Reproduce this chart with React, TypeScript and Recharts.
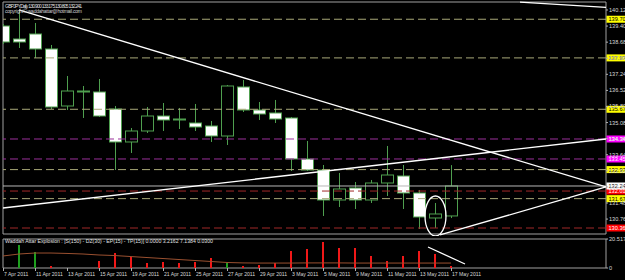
import React from 'react'
import {
  ComposedChart,
  Bar,
  Line,
  XAxis,
  YAxis,
  Cell,
  ReferenceLine,
  ReferenceArea,
  ReferenceDot,
} from 'recharts'

// GBPJPY daily, 7 Apr - 17 May 2011
const dates = [
  '7 Apr 2011', '8 Apr 2011', '11 Apr 2011', '12 Apr 2011', '13 Apr 2011', '14 Apr 2011',
  '15 Apr 2011', '18 Apr 2011', '19 Apr 2011', '20 Apr 2011', '21 Apr 2011', '22 Apr 2011',
  '25 Apr 2011', '26 Apr 2011', '27 Apr 2011', '28 Apr 2011', '29 Apr 2011', '2 May 2011',
  '3 May 2011', '4 May 2011', '5 May 2011', '6 May 2011', '9 May 2011', '10 May 2011',
  '11 May 2011', '12 May 2011', '13 May 2011', '16 May 2011', '17 May 2011',
]
const opens = [
  139.403, 138.821, 139.045, 138.374, 135.822, 136.493, 136.449, 135.688, 134.211, 134.703,
  135.374, 135.24, 135.061, 134.927, 134.479, 136.673, 135.643, 135.509, 135.285, 133.45,
  132.957, 131.614, 132.151, 131.614, 132.375, 132.689, 131.928, 130.809, 130.9,
]
const highs = [
  139.493, 140.12, 139.537, 138.553, 137.165, 136.717, 137.031, 135.822, 134.837, 135.777,
  135.956, 135.733, 135.912, 135.151, 136.762, 136.986, 136.001, 136.091, 135.33, 134.255,
  133.181, 132.823, 132.42, 132.51, 134.032, 133.181, 132.062, 131.48, 133.175,
]
const lows = [
  138.597, 138.418, 137.971, 135.688, 135.643, 135.285, 135.33, 132.957, 133.718, 134.613,
  134.703, 134.792, 134.703, 134.211, 134.076, 135.553, 135.195, 135.061, 132.912, 132.912,
  130.898, 131.301, 131.211, 131.48, 131.793, 131.211, 130.316, 130.361, 130.805,
]
const closes = [
  138.687, 138.687, 138.374, 135.777, 136.493, 136.48, 135.374, 134.211, 134.703, 135.374,
  135.195, 135.218, 134.882, 134.479, 136.717, 135.643, 135.464, 135.24, 133.45, 132.957,
  131.614, 132.107, 131.614, 132.375, 132.733, 131.928, 130.853, 130.988, 132.241,
]

// Waddah Attar Explosion sub window
const waeUp = [
  0, 16.3, 11.3, 0, 0, 0, 0, 0, 0, 0, 0, 0, 0, 0, 3.5, 0, 0, 0, 0, 0, 0, 0, 0, 0, 0, 0, 0, 0, 0,
]
const waeDown = [
  0, 0, 0, 1.4, 0, 0, 5.0, 10.6, 7.8, 3.5, 4.2, 3.5, 4.2, 7.1, 0, 1.4, 2.1, 3.5, 12.0, 13.4,
  18.4, 14.2, 14.2, 8.5, 5.0, 8.5, 12.0, 9.9, 1.4,
]
const explosion = [
  8.5, 9.9, 10.6, 10.6, 10.3, 9.9, 9.2, 8.8, 8.1, 7.4, 6.7, 6.0, 5.3, 4.6, 3.9, 3.6, 3.5, 3.5,
  3.5, 3.6, 3.6, 3.6, 3.5, 3.5, 3.5, 3.5, 3.5, 3.5, 3.5,
]

const priceTicks = [
  140.12, 139.4, 138.68, 137.96, 137.24, 136.52, 135.8, 135.08, 134.36, 133.64, 132.92, 132.2,
  131.48, 130.76,
]
const yellowLevels = [139.705, 137.975, 135.675, 132.975, 131.675]
const magentaLevels = [134.345, 133.45]
const redLevels = [132.015, 130.36]
const bid = 132.241

// trendlines as [barIndex, price] pairs
const trendLines = [
  [[1, 140.12], [37.6875, 132.196]],
  [[0, 131.256], [37.6875, 134.345]],
  [[27.3125, 130.048], [37.6875, 132.196]],
  [[32.3125, 140.47], [37.6875, 140.24]],
]
const circled = [27.03, 130.898]
const waeArrow = [[26.5625, 14.86], [28.875, 2.83]]

const X_MAX = 37.6875
const P_MIN = 130.092
const P_MAX = 140.477
const WAE_MAX = 20.5177

const WICK = '#4f9f4f'
const FONT = '"Liberation Sans", Arial, sans-serif'

const rows = dates.map((d, i) => ({
  i,
  date: d,
  open: opens[i],
  high: highs[i],
  low: lows[i],
  close: closes[i],
  range: [lows[i], highs[i]],
  hist: waeUp[i] > 0 ? waeUp[i] : waeDown[i],
  up: waeUp[i] > 0,
  exp: explosion[i],
}))

function Candle(props: any) {
  const { x, y, width, height, payload } = props
  if (x == null || !payload) return null
  const { open, close, high, low } = payload
  const cx = Math.round(x + width / 2) + 0.5
  const top = Math.min(y, y + height)
  const h = Math.abs(height)
  const py = (p: number) => top + ((high - p) / (high - low)) * h
  const yo = py(open)
  const yc = py(close)
  const bull = close > open
  const bodyTop = Math.min(yo, yc)
  const bodyH = Math.max(Math.abs(yc - yo), 1)
  return (
    <g>
      <line x1={cx} x2={cx} y1={top} y2={top + h} stroke={WICK} strokeWidth={1} />
      <rect
        x={cx - 6}
        y={bodyTop}
        width={12}
        height={bodyH}
        fill={bull ? '#000' : '#fff'}
        stroke={WICK}
        strokeWidth={1}
      />
    </g>
  )
}

function PriceTag(props: any) {
  const { viewBox, text, bg, fg } = props
  if (!viewBox) return null
  const x = viewBox.x + viewBox.width
  const y = viewBox.y
  return (
    <g>
      <rect x={x + 0.5} y={y - 3.5} width={22} height={7} fill={bg} />
      <text x={x + 2.5} y={y + 2} fontSize={5.6} fill={fg} fontFamily={FONT}>
        {text}
      </text>
    </g>
  )
}

function PriceTick(props: any) {
  const { x, y, payload } = props
  return (
    <text x={x} y={y + 2} fontSize={5.6} fill="#d8d8d8" fontFamily={FONT}>
      {payload.value.toFixed(3)}
    </text>
  )
}

function WaeTick(props: any) {
  const { x, y, payload } = props
  return (
    <text x={x} y={y + 2} fontSize={5.6} fill="#d8d8d8" fontFamily={FONT}>
      {payload.value === 0 ? '0' : payload.value.toFixed(4)}
    </text>
  )
}

function DateTick(props: any) {
  const { x, y, payload } = props
  return (
    <g>
      <line x1={x + 0.5} x2={x + 0.5} y1={y} y2={y + 3} stroke="#b0b0b0" />
      <text x={x + 1} y={y + 8} fontSize={5.1} fill="#d8d8d8" fontFamily={FONT}>
        {dates[payload.value]}
      </text>
    </g>
  )
}

function Ellipse(props: any) {
  const { cx, cy } = props
  if (cx == null) return null
  return <ellipse cx={cx} cy={cy} rx={10.5} ry={20} fill="none" stroke="#fff" strokeWidth={1.3} />
}

const dateTicks = dates.map((_, i) => i).filter((i) => i % 2 === 0)

export default function App() {
  return (
    <div
      style={{
        position: 'fixed',
        left: 0,
        top: 0,
        width: 625,
        height: 280,
        background: '#000',
        overflow: 'hidden',
      }}
    >
      <div style={{ position: 'absolute', left: 0, top: 0 }}>
        <ComposedChart
          width={625}
          height={236}
          data={rows}
          margin={{ top: 2, right: 0, bottom: 2, left: 3 }}
        >
          <XAxis dataKey="i" type="number" domain={[0, X_MAX]} allowDataOverflow hide />
          <YAxis
            orientation="right"
            width={19}
            domain={[P_MIN, P_MAX]}
            allowDataOverflow
            ticks={priceTicks}
            interval={0}
            tickSize={2}
            tickMargin={1}
            tickLine={{ stroke: '#b0b0b0' }}
            axisLine={false}
            tick={<PriceTick />}
          />
          <ReferenceArea
            x1={0}
            x2={X_MAX}
            y1={P_MIN}
            y2={P_MAX}
            fill="none"
            stroke="#a0a0a0"
            ifOverflow="visible"
          />
          <Bar dataKey="range" barSize={12} shape={<Candle />} isAnimationActive={false} />
          {yellowLevels.map((v) => (
            <ReferenceLine
              key={'y' + v}
              y={v}
              stroke="#a8a878"
              strokeDasharray="8 4"
              label={<PriceTag text={v.toFixed(3)} bg="#ffff00" fg="#000" />}
            />
          ))}
          {magentaLevels.map((v) => (
            <ReferenceLine
              key={'m' + v}
              y={v}
              stroke="#9a309a"
              strokeDasharray="8 4"
              label={<PriceTag text={v.toFixed(3)} bg="#ff00ff" fg="#fff" />}
            />
          ))}
          {redLevels.map((v) => (
            <ReferenceLine
              key={'r' + v}
              y={v}
              stroke="#a02828"
              strokeDasharray="8 4"
              label={<PriceTag text={v.toFixed(3)} bg="#ff0000" fg="#fff" />}
            />
          ))}
          <ReferenceLine
            y={bid}
            stroke="#b8b8b8"
            label={<PriceTag text={bid.toFixed(3)} bg="#ffffff" fg="#000" />}
          />
          {trendLines.map((seg, k) => (
            <ReferenceLine
              key={'t' + k}
              segment={[
                { x: seg[0][0], y: seg[0][1] },
                { x: seg[1][0], y: seg[1][1] },
              ]}
              stroke="#ffffff"
              strokeWidth={1.3}
              ifOverflow="visible"
            />
          ))}
          <ReferenceDot
            x={circled[0]}
            y={circled[1]}
            r={1}
            shape={(p: any) => <Ellipse {...p} />}
            ifOverflow="visible"
          />
        </ComposedChart>
      </div>
      <div style={{ position: 'absolute', left: 0, top: 236 }}>
        <ComposedChart
          width={625}
          height={44}
          data={rows}
          margin={{ top: 3, right: 0, bottom: 0, left: 3 }}
        >
          <XAxis
            dataKey="i"
            type="number"
            domain={[0, X_MAX]}
            allowDataOverflow
            ticks={dateTicks}
            interval={0}
            height={12}
            tickSize={0}
            tickMargin={0}
            tickLine={false}
            axisLine={false}
            tick={<DateTick />}
          />
          <YAxis
            orientation="right"
            width={19}
            domain={[0, WAE_MAX]}
            allowDataOverflow
            ticks={[0, WAE_MAX]}
            interval={0}
            tickSize={2}
            tickMargin={1}
            tickLine={{ stroke: '#b0b0b0' }}
            axisLine={false}
            tick={<WaeTick />}
          />
          <ReferenceArea
            x1={0}
            x2={X_MAX}
            y1={0}
            y2={WAE_MAX}
            fill="none"
            stroke="#a0a0a0"
            ifOverflow="visible"
          />
          <Bar dataKey="hist" barSize={2} isAnimationActive={false}>
            {rows.map((r, i) => (
              <Cell key={i} fill={r.up ? '#1fa01f' : '#f01818'} />
            ))}
          </Bar>
          <Line
            dataKey="exp"
            type="linear"
            stroke="#9a5030"
            strokeWidth={1}
            dot={false}
            isAnimationActive={false}
          />
          <ReferenceLine
            segment={[
              { x: waeArrow[0][0], y: waeArrow[0][1] },
              { x: waeArrow[1][0], y: waeArrow[1][1] },
            ]}
            stroke="#ffffff"
            strokeWidth={1.3}
            ifOverflow="visible"
          />
        </ComposedChart>
      </div>
      <svg
        width={625}
        height={280}
        style={{ position: 'absolute', left: 0, top: 0, pointerEvents: 'none' }}
      >
        <text x={5} y={8} fontSize={5} fill="#e0e0e0" fontFamily={FONT} textLength={77}>
          GBPJPY,Daily 130.900 133.175 130.805 132.241
        </text>
        <text x={5} y={13} fontSize={5} fill="#d0d0d0" fontFamily={FONT} textLength={77}>
          copyright© waddahattar@hotmail.com
        </text>
        <text x={5} y={243} fontSize={5.2} fill="#e0e0e0" fontFamily={FONT} textLength={208}>
          Waddah Attar Explosion : [S(150) - DZ(30) - EP(15) - TP(15)] 0.0000 3.2162 7.1384 0.0300
        </text>
      </svg>
    </div>
  )
}
